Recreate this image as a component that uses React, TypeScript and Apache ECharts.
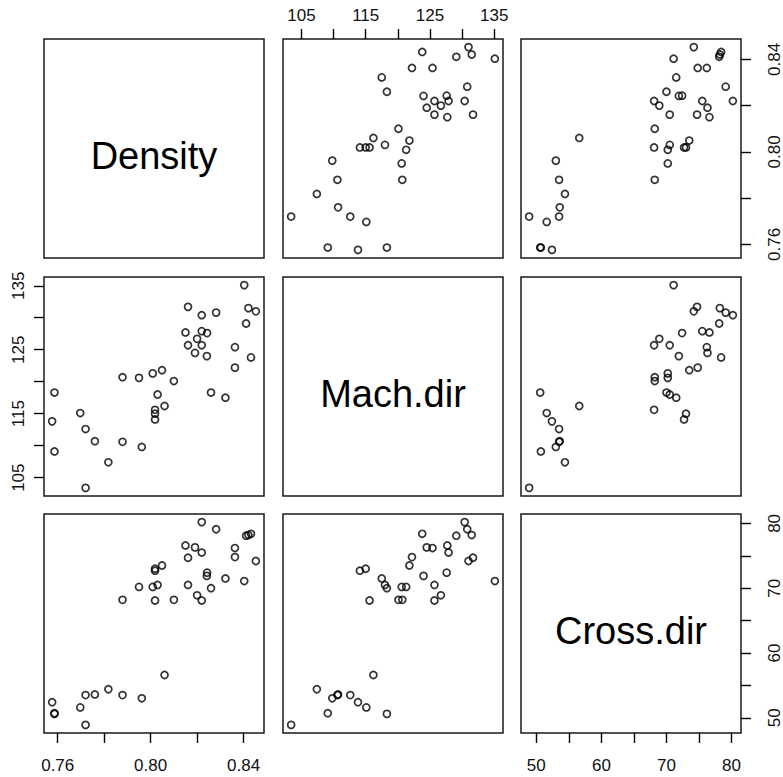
import React, { useEffect, useRef } from "react";
import * as echarts from "echarts";

const varNames = ["Density", "Mach.dir", "Cross.dir"];

const density = [
  0.8403, 0.8161, 0.8421, 0.8453, 0.822, 0.8282, 0.8411, 0.815, 0.822, 0.8243,
  0.82, 0.8161, 0.822, 0.8363, 0.8191, 0.8242, 0.8432, 0.8363, 0.8049, 0.8009,
  0.7879, 0.795, 0.81, 0.7586, 0.826, 0.803, 0.8322, 0.806, 0.8019, 0.7697,
  0.8019, 0.8019, 0.7576, 0.772, 0.776, 0.7879, 0.7962, 0.7586, 0.7818, 0.772,
];
const machDir = [
  135.1, 131.7, 131.5, 131.0, 130.4, 130.8, 129.1, 127.7, 127.9, 127.6,
  126.7, 125.7, 125.7, 125.4, 124.5, 124.0, 123.8, 122.2, 121.8, 121.3,
  120.7, 120.6, 120.1, 118.3, 118.3, 118.0, 117.5, 116.2, 115.6, 115.1,
  115.0, 114.1, 113.8, 112.6, 110.7, 110.6, 109.8, 109.1, 107.4, 103.4,
];
const crossDir = [
  71.1, 74.7, 78.2, 74.2, 80.2, 79.1, 78.1, 76.6, 75.5, 72.4,
  68.9, 70.5, 68.1, 76.2, 76.3, 71.9, 78.4, 74.8, 73.5, 70.2,
  68.2, 70.2, 68.2, 50.6, 70.0, 70.5, 71.5, 56.6, 68.1, 51.6,
  73.0, 72.7, 52.4, 53.5, 53.6, 53.5, 53.0, 50.7, 54.4, 48.9,
];

const densityTicks = [0.76, 0.78, 0.8, 0.82, 0.84];
const densityLabels = [0.76, 0.8, 0.84];
const machTicks = [105, 110, 115, 120, 125, 130, 135];
const machLabels = [105, 115, 125, 135];
const crossTicks = [50, 55, 60, 65, 70, 75, 80];
const crossLabels = [50, 60, 70, 80];

const FONT = "'Liberation Sans', Arial, Helvetica, sans-serif";

export default function App() {
  const ref = useRef<HTMLDivElement>(null);

  useEffect(() => {
    document.body.style.margin = "0";
    const chart = echarts.init(ref.current!, null, { renderer: "svg" });

    const vars = [density, machDir, crossDir];
    const ticks = [densityTicks, machTicks, crossTicks];
    const labels = [densityLabels, machLabels, crossLabels];
    const fmt = [
      (v: number) => v.toFixed(2),
      (v: number) => String(Math.round(v)),
      (v: number) => String(Math.round(v)),
    ];
    const range = (arr: number[]) => {
      const lo = Math.min(...arr);
      const hi = Math.max(...arr);
      const r = hi - lo;
      return [lo - 0.04 * r, hi + 0.04 * r];
    };
    const ranges = vars.map(range);

    const colLeft = [44, 283, 521];
    const rowTop = [39, 277, 514];
    const W = 220;
    const H = 219;

    const grids: any[] = [];
    const xAxes: any[] = [];
    const yAxes: any[] = [];
    const series: any[] = [];
    const graphics: any[] = [];

    const tickStyle = { color: "#000", width: 1.4 };
    const labelBase = { fontSize: 17, color: "#111", fontFamily: FONT };

    for (let r = 0; r < 3; r++) {
      for (let c = 0; c < 3; c++) {
        const g = r * 3 + c;
        grids.push({
          left: colLeft[c],
          top: rowTop[r],
          width: W,
          height: H,
          show: true,
          borderColor: "#1a1a1a",
          borderWidth: 1.5,
          backgroundColor: "transparent",
        });
        const showX = (r === 0 && c === 1) || (r === 2 && (c === 0 || c === 2));
        const showY = (r === 1 && c === 0) || (c === 2 && (r === 0 || r === 2));
        xAxes.push({
          type: "value",
          gridIndex: g,
          min: ranges[c][0],
          max: ranges[c][1],
          show: showX,
          position: r === 0 ? "top" : "bottom",
          axisLine: { show: false },
          axisTick: { show: true, length: 10, lineStyle: tickStyle, customValues: ticks[c] },
          axisLabel: {
            ...labelBase,
            customValues: labels[c],
            formatter: fmt[c],
            margin: r === 0 ? 15 : 24,
          },
          splitLine: { show: false },
        });
        yAxes.push({
          type: "value",
          gridIndex: g,
          min: ranges[r][0],
          max: ranges[r][1],
          show: showY,
          position: c === 0 ? "left" : "right",
          axisLine: { show: false },
          axisTick: { show: true, length: 10, lineStyle: tickStyle, customValues: ticks[r] },
          axisLabel: {
            ...labelBase,
            customValues: labels[r],
            formatter: fmt[r],
            rotate: 90,
            margin: c === 0 ? 17 : 25,
          },
          splitLine: { show: false },
        });
        if (r !== c) {
          series.push({
            type: "scatter",
            xAxisIndex: g,
            yAxisIndex: g,
            data: vars[c].map((v, i) => [v, vars[r][i]]),
            symbol: "circle",
            symbolSize: 7,
            itemStyle: { color: "rgba(0,0,0,0)", borderColor: "#000", borderWidth: 1.7 },
            silent: true,
            emphasis: { disabled: true },
          });
        } else {
          graphics.push({
            type: "text",
            x: colLeft[c] + W / 2,
            y: rowTop[r] + H / 2 + 7,
            style: {
              text: varNames[r],
              fontSize: 38,
              fontFamily: FONT,
              fill: "#000",
              textAlign: "center",
              textVerticalAlign: "middle",
            },
          });
        }
      }
    }

    chart.setOption({
      animation: false,
      backgroundColor: "#fff",
      grid: grids,
      xAxis: xAxes,
      yAxis: yAxes,
      series,
      graphic: graphics,
    });

    return () => chart.dispose();
  }, []);

  return <div ref={ref} style={{ width: 783, height: 777 }} />;
}
